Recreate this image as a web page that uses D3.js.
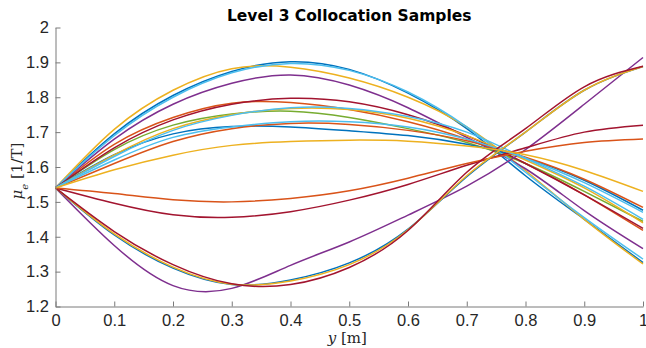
<!DOCTYPE html>
<html>
<head>
<meta charset="utf-8">
<script src="https://cdn.jsdelivr.net/npm/d3@7"></script>
<style>
  html, body { margin: 0; padding: 0; background: #fff; }
  svg { display: block; }
</style>
</head>
<body>
<div id="chart"></div>
<script>
// Sample positions along the domain (m)
const yPositions = [0, 0.1, 0.2, 0.3, 0.4, 0.5, 0.6, 0.7, 0.8, 0.9, 1.0];

// Collocation samples of mu_e at each position (1/T)
const sampleBlueHigh    = [1.54, 1.695, 1.805, 1.874, 1.902, 1.880, 1.812, 1.710, 1.575, 1.450, 1.326];
const sampleOrangeHigh  = [1.54, 1.665, 1.742, 1.783, 1.785, 1.765, 1.730, 1.680, 1.610, 1.520, 1.418];
const sampleYellowHigh  = [1.54, 1.708, 1.820, 1.882, 1.886, 1.855, 1.800, 1.715, 1.590, 1.450, 1.322];
const samplePurpleHigh  = [1.54, 1.680, 1.780, 1.840, 1.864, 1.835, 1.770, 1.685, 1.595, 1.475, 1.366];
const sampleGreen       = [1.54, 1.650, 1.720, 1.752, 1.760, 1.742, 1.710, 1.670, 1.610, 1.530, 1.444];
const sampleCyanHigh    = [1.54, 1.690, 1.800, 1.870, 1.897, 1.877, 1.815, 1.715, 1.585, 1.455, 1.336];
const sampleRedHigh     = [1.54, 1.655, 1.735, 1.780, 1.797, 1.787, 1.750, 1.690, 1.610, 1.520, 1.424];
const sampleBlueMid     = [1.54, 1.635, 1.695, 1.716, 1.715, 1.704, 1.690, 1.665, 1.625, 1.562, 1.476];
const sampleOrangeMid   = [1.54, 1.610, 1.673, 1.710, 1.725, 1.722, 1.705, 1.675, 1.628, 1.565, 1.484];
const sampleYellowMid   = [1.54, 1.635, 1.710, 1.750, 1.768, 1.765, 1.740, 1.690, 1.620, 1.540, 1.440];
const sampleCyanMid     = [1.54, 1.630, 1.705, 1.748, 1.770, 1.768, 1.745, 1.700, 1.625, 1.545, 1.450];
const sampleCyanLow     = [1.54, 1.620, 1.685, 1.715, 1.730, 1.730, 1.715, 1.680, 1.625, 1.555, 1.470];
const sampleYellowLow   = [1.54, 1.592, 1.634, 1.662, 1.673, 1.677, 1.674, 1.660, 1.635, 1.590, 1.530];
const sampleOrangeDip   = [1.54, 1.524, 1.506, 1.500, 1.510, 1.532, 1.568, 1.610, 1.645, 1.670, 1.680];
const sampleRedDip      = [1.54, 1.496, 1.463, 1.456, 1.472, 1.505, 1.550, 1.605, 1.655, 1.700, 1.720];
const sampleBlueDeep    = [1.54, 1.405, 1.310, 1.263, 1.276, 1.325, 1.422, 1.572, 1.700, 1.820, 1.888];
const sampleYellowDeep  = [1.54, 1.408, 1.313, 1.264, 1.273, 1.320, 1.420, 1.575, 1.700, 1.820, 1.888];
const sampleRedDeep     = [1.54, 1.415, 1.320, 1.265, 1.263, 1.312, 1.418, 1.585, 1.710, 1.830, 1.889];
const samplePurpleDeep  = [1.54, 1.375, 1.260, 1.252, 1.318, 1.385, 1.462, 1.545, 1.650, 1.780, 1.914];

// Plot order and line colours (default colour cycle)
const samples = [
  sampleBlueHigh, sampleOrangeHigh, sampleYellowHigh, samplePurpleHigh, sampleGreen, sampleCyanHigh, sampleRedHigh,
  sampleBlueMid, sampleOrangeMid, sampleYellowMid, samplePurpleDeep, sampleCyanMid, sampleRedDip,
  sampleBlueDeep, sampleOrangeDip, sampleYellowDeep, sampleCyanLow, sampleRedDeep, sampleYellowLow
];
const sampleColors = [
  "#0072BD", "#D95319", "#EDB120", "#7E2F8E", "#77AC30", "#4DBEEE", "#A2142F",
  "#0072BD", "#D95319", "#EDB120", "#7E2F8E", "#4DBEEE", "#A2142F",
  "#0072BD", "#D95319", "#EDB120", "#4DBEEE", "#A2142F", "#EDB120"
];

const xTicks = [0, 0.1, 0.2, 0.3, 0.4, 0.5, 0.6, 0.7, 0.8, 0.9, 1];
const yTicks = [1.2, 1.3, 1.4, 1.5, 1.6, 1.7, 1.8, 1.9, 2];
const titleText = "Level 3 Collocation Samples";

const width = 646, height = 348;
const margin = { top: 27.5, right: 3, bottom: 41.5, left: 55.5 };

const svg = d3.select("#chart").append("svg")
  .attr("width", width).attr("height", height);

const x = d3.scaleLinear().domain([0, 1]).range([margin.left, width - margin.right]);
const y = d3.scaleLinear().domain([1.2, 2]).range([height - margin.bottom, margin.top]);

const axisColor = "#262626";
const tickFont = "'Liberation Sans', Arial, Helvetica, sans-serif";

// Sample curves
const line = d3.line()
  .x((d, i) => x(yPositions[i]))
  .y(d => y(d))
  .curve(d3.curveNatural);

svg.append("g")
  .selectAll("path")
  .data(samples)
  .join("path")
  .attr("d", d => line(d))
  .attr("fill", "none")
  .attr("stroke", (d, i) => sampleColors[i])
  .attr("stroke-width", 1.5);

// Axes: ticks point inward, no box
const xAxis = d3.axisBottom(x).tickValues(xTicks)
  .tickFormat(d3.format("~g")).tickSizeInner(-5).tickSizeOuter(0).tickPadding(8);
const yAxis = d3.axisLeft(y).tickValues(yTicks)
  .tickFormat(d3.format("~g")).tickSizeInner(-5).tickSizeOuter(0).tickPadding(6.5);

const gx = svg.append("g")
  .attr("transform", `translate(0,${height - margin.bottom})`)
  .call(xAxis);
const gy = svg.append("g")
  .attr("transform", `translate(${margin.left},0)`)
  .call(yAxis);

[gx, gy].forEach(g => {
  g.attr("font-size", null).attr("font-family", null);
  g.select(".domain").attr("stroke", "#7a7a7a").attr("stroke-width", 1);
  g.selectAll(".tick line").attr("stroke", "#7a7a7a").attr("stroke-width", 1);
  g.selectAll(".tick text")
    .attr("fill", axisColor)
    .attr("font-family", tickFont)
    .attr("font-size", 16.5);
});

// Title
svg.append("text")
  .attr("x", (x(0) + x(1)) / 2)
  .attr("y", 20.5)
  .attr("text-anchor", "middle")
  .style("font-family", "'DejaVu Sans', sans-serif")
  .style("font-weight", "bold")
  .style("font-size", "15.5px")
  .attr("fill", "#000")
  .text(titleText);

// Axis labels (serif, mathematical style)
const xLabel = svg.append("text")
  .attr("x", (x(0) + x(1)) / 2 - 2)
  .attr("y", 343)
  .attr("text-anchor", "middle")
  .style("font-family", "'DejaVu Serif', 'Liberation Serif', serif")
  .style("font-size", "15px")
  .attr("fill", axisColor);
xLabel.append("tspan").style("font-style", "italic").text("y");
xLabel.append("tspan").text(" [m]");

const yLabel = svg.append("text")
  .attr("transform", `translate(22,${(y(1.2) + y(2)) / 2 + 4}) rotate(-90)`)
  .attr("text-anchor", "middle")
  .style("font-family", "'DejaVu Serif', 'Liberation Serif', serif")
  .style("font-size", "15px")
  .attr("fill", axisColor);
yLabel.append("tspan").style("font-style", "italic").text("μ");
yLabel.append("tspan").attr("baseline-shift", "sub").style("font-size", "10px").style("font-style", "italic").text("e");
yLabel.append("tspan").text(" [1/T]");
</script>
</body>
</html>
